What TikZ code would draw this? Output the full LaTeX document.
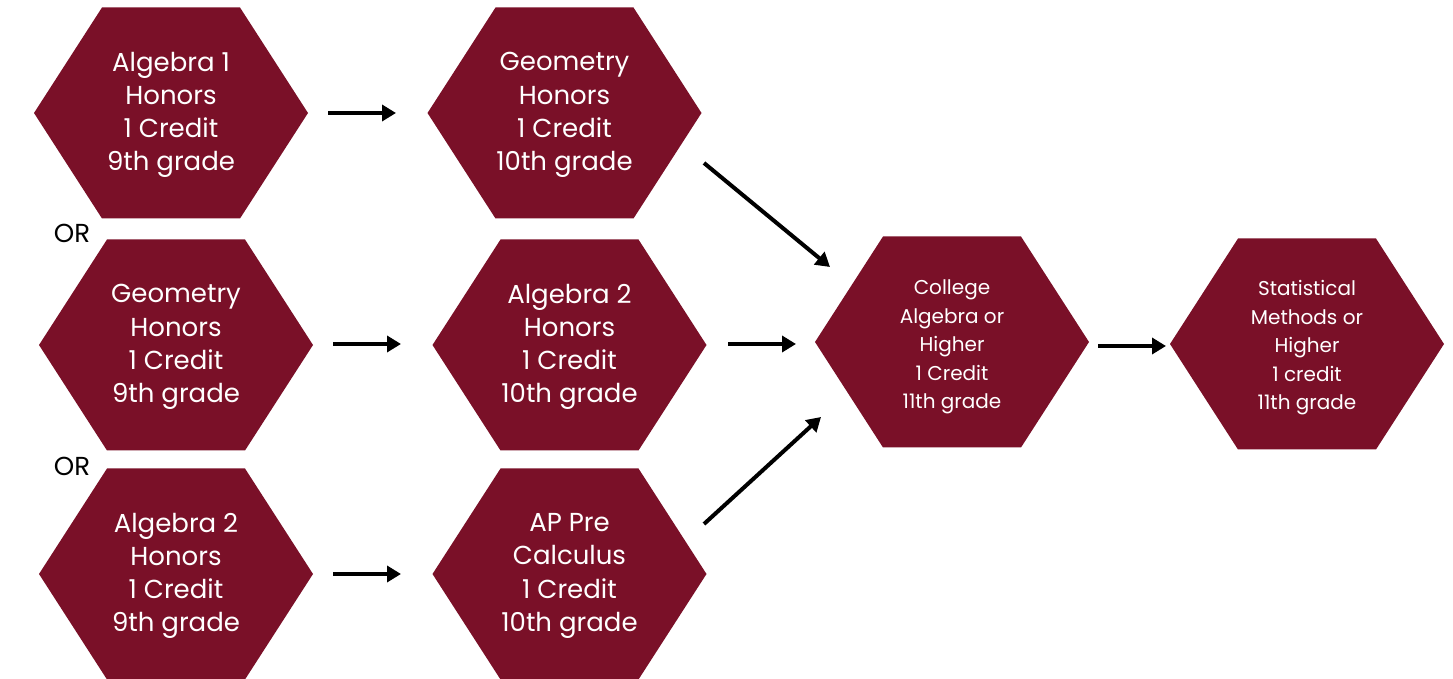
\documentclass[tikz,border=0pt]{standalone}
\usepackage{fontspec}
\setmainfont{Poppins}
\usetikzlibrary{arrows.meta,backgrounds}
\definecolor{maroon}{RGB}{122,16,40}
\tikzset{every node/.style={font=\fontsize{13}{16.6}\selectfont},
  course/.style={text=white, align=center, inner sep=0pt},
  smallcourse/.style={course, font=\fontsize{10}{14.25}\selectfont},
  link/.style={line width=2pt, -{Triangle[length=7pt,width=8pt]}}}

\begin{document}
\begin{tikzpicture}[x=0.5pt, y=-0.5pt]
  \useasboundingbox (0,0) rectangle (1453,679);
  % first year
  \node[course] (alga) at (171,115) {Algebra 1\\Honors\\1 Credit\\9th grade};
  \node[course] (geoa) at (176,347) {Geometry\\Honors\\1 Credit\\9th grade};
  \node[course] (algb) at (176,576) {Algebra 2\\Honors\\1 Credit\\9th grade};
  \node (or1) at (72,233) {OR};
  \node (or2) at (72,466) {OR};
  % second year
  \node[course] (geob) at (564.5,115) {Geometry\\Honors\\1 Credit\\10th grade};
  \node[course] (algc) at (569.5,347) {Algebra 2\\Honors\\1 Credit\\10th grade};
  \node[course] (precalc) at (569.5,576) {AP Pre\\Calculus\\1 Credit\\10th grade};
  % third year
  \node[smallcourse] (college) at (952,347) {College\\Algebra or\\Higher\\1 Credit\\11th grade};
  \node[smallcourse] (stats) at (1307,348) {Statistical\\Methods or\\Higher\\1 credit\\11th grade};
  \begin{scope}[on background layer]
    \foreach \n/\y in {alga/113,geoa/345,algb/574,geob/113,algc/345,precalc/574,college/342,stats/344}
      \fill[maroon] ([shift={(-137,0)}]\n.center |- 0,\y) -- ++(68,-105.5) -- ++(138,0) -- ++(68,105.5) -- ++(-68,105.5) -- ++(-138,0) -- cycle;
  \end{scope}
  \draw[link] ([shift={(157,-2)}]alga.center) -- ([shift={(-168.5,-2)}]geob.center);
  \draw[link] ([shift={(157,-3)}]geoa.center) -- ([shift={(-168.5,-3)}]algc.center);
  \draw[link] ([shift={(157,-2)}]algb.center) -- ([shift={(-168.5,-2)}]precalc.center);
  \draw[link] ([shift={(139.5,48)}]geob.center) -- ([shift={(-122,-80)}]college.center);
  \draw[link] ([shift={(158.5,-3)}]algc.center) -- ([shift={(-156,-3)}]college.center);
  \draw[link] ([shift={(134.5,-52)}]precalc.center) -- ([shift={(-131,70)}]college.center);
  \draw[link] ([shift={(146,-1)}]college.center) -- ([shift={(-141,-2)}]stats.center);
\end{tikzpicture}
\end{document}
